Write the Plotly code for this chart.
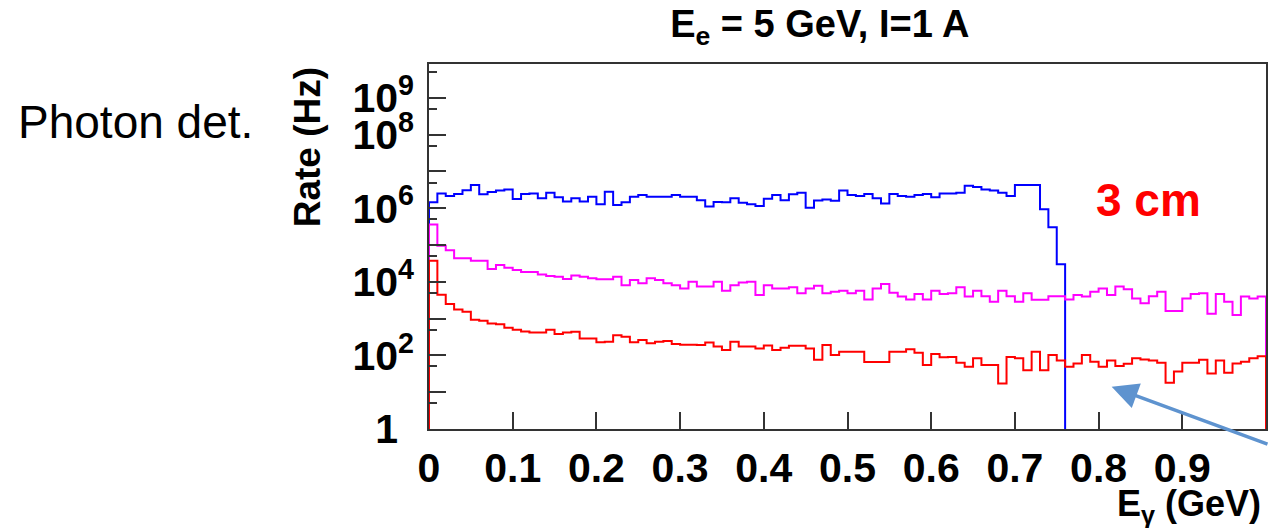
import numpy as np
import plotly.graph_objects as go

# ---- data (log10 of rate in Hz, one value per 0.01 GeV bin) ----
n_bins = 100
e_lo, e_hi = 0.0, 1.0

blue_log10 = [6.16, 6.40, 6.33, 6.39, 6.49, 6.63, 6.38, 6.44, 6.48, 6.51,
              6.25, 6.39, 6.40, 6.27, 6.42, 6.30, 6.18, 6.27, 6.18, 6.31,
              6.11, 6.45, 6.09, 6.16, 6.31, 6.36, 6.31, 6.31, 6.31, 6.36,
              6.31, 6.31, 6.22, 6.05, 6.17, 6.16, 6.27, 6.15, 6.11, 6.06,
              6.26, 6.36, 6.22, 6.38, 6.42, 6.01, 6.21, 6.24, 6.20, 6.48,
              6.36, 6.33, 6.39, 6.27, 6.13, 6.39, 6.33, 6.31, 6.36, 6.39,
              6.30, 6.40, 6.40, 6.42, 6.61, 6.58, 6.51, 6.48, 6.42, 6.33,
              6.63, 6.63, 6.63, 5.97, 5.48, 4.48]

magenta_log10 = [5.56, 4.98, 4.86, 4.64, 4.64, 4.57, 4.57, 4.35, 4.46, 4.38,
                 4.32, 4.27, 4.27, 4.20, 4.16, 4.14, 4.08, 4.17, 4.14, 4.10,
                 4.07, 4.07, 4.14, 3.91, 4.05, 3.96, 4.10, 4.05, 3.96, 3.91,
                 3.82, 4.00, 3.87, 3.87, 4.00, 3.76, 3.91, 3.98, 4.00, 3.64,
                 3.91, 3.82, 3.82, 3.85, 3.69, 3.82, 3.89, 3.69, 3.73, 3.76,
                 3.69, 3.76, 3.52, 3.82, 3.94, 3.70, 3.60, 3.52, 3.67, 3.52,
                 3.76, 3.67, 3.69, 3.85, 3.60, 3.76, 3.61, 3.46, 3.76, 3.61,
                 3.46, 3.69, 3.51, 3.51, 3.61, 3.61, 3.52, 3.64, 3.60, 3.73,
                 3.82, 3.64, 3.87, 3.80, 3.55, 3.42, 3.61, 3.73, 3.21, 3.21,
                 3.55, 3.67, 3.69, 3.13, 3.67, 3.46, 3.10, 3.60, 3.55, 3.60]

red_log10 = [4.57, 3.65, 3.40, 3.25, 3.19, 2.97, 2.94, 2.87, 2.85, 2.75,
             2.70, 2.65, 2.62, 2.62, 2.70, 2.58, 2.62, 2.64, 2.46, 2.46,
             2.36, 2.37, 2.55, 2.51, 2.36, 2.42, 2.33, 2.37, 2.39, 2.31,
             2.29, 2.29, 2.28, 2.35, 2.24, 2.15, 2.37, 2.24, 2.24, 2.19,
             2.27, 2.15, 2.21, 2.26, 2.26, 2.19, 1.88, 2.28, 2.01, 2.10,
             2.10, 2.10, 1.82, 1.82, 1.82, 2.10, 2.10, 2.17, 2.07, 1.74,
             2.04, 1.95, 1.96, 1.80, 1.69, 1.92, 1.74, 1.74, 1.24, 1.96,
             1.92, 1.60, 2.10, 1.60, 2.01, 1.86, 1.69, 1.78, 2.01, 1.83,
             1.69, 1.86, 1.71, 1.77, 1.92, 1.89, 1.86, 1.80, 1.26, 1.56,
             1.80, 1.80, 1.88, 1.51, 1.86, 1.53, 1.78, 1.83, 1.92, 1.98]

x_tick_vals = [0, 0.1, 0.2, 0.3, 0.4, 0.5, 0.6, 0.7, 0.8, 0.9, 1.0]
x_tick_text = ["0", "0.1", "0.2", "0.3", "0.4", "0.5", "0.6", "0.7", "0.8", "0.9", "1"]

y_major_vals = [1, 1e1, 1e2, 1e3, 1e4, 1e5, 1e6, 1e7, 1e8, 1e9]
pad = "<sup><span style='color:rgba(0,0,0,0)'>0</span></sup>"
y_major_text = ["1" + pad, "", "10<sup>2</sup>", "", "10<sup>4</sup>", "",
                "10<sup>6</sup>", "", "10<sup>8</sup>", "10<sup>9</sup>"]
y_minor_vals = [5, 5e1, 5e2, 5e3, 5e4, 5e5, 5e6, 5e7, 5e8, 5e9]

series = [("blue", blue_log10, "#0000ff"),
          ("magenta", magenta_log10, "#ff00ff"),
          ("red", red_log10, "#ff0000")]

edges = np.linspace(e_lo, e_hi, n_bins + 1)
floor_val = 1e-2  # below the axis minimum: drawn edges drop to the frame


def step_xy(logvals):
    vals = 10 ** np.asarray(logvals, dtype=float)
    n = len(vals)
    x = np.concatenate([[edges[0]], edges[:n], [edges[n]]])
    y = np.concatenate([[floor_val], vals, [floor_val]])
    return x, y


def bold(labels):
    return [("<b>" + t + "</b>") if t else "" for t in labels]


fig = go.Figure()
for name, lv, col in series:
    x, y = step_xy(lv)
    fig.add_trace(go.Scatter(x=x, y=y, mode="lines", name=name,
                             line=dict(color=col, width=2, shape="hv"),
                             hoverinfo="skip"))

FONT = "Liberation Sans, Arial, Helvetica, sans-serif"
axis_col = "#333333"
TICK_SIZE = 41

fig.update_layout(
    width=1269, height=528,
    margin=dict(l=429, r=1, t=64, b=99),
    paper_bgcolor="white", plot_bgcolor="white",
    showlegend=False,
    font=dict(family=FONT, color="black"),
    title=dict(text="<b>E<sub>e</sub> = 5 GeV, I=1 A</b>", x=0.646, xanchor="center",
               y=0.955, yanchor="middle", font=dict(size=38, family=FONT, color="black")),
)

fig.update_xaxes(
    range=[e_lo, e_hi], tickmode="array", tickvals=x_tick_vals, ticktext=bold(x_tick_text),
    ticks="inside", ticklen=17, tickwidth=1.5, tickcolor=axis_col,
    showline=True, linecolor=axis_col, linewidth=1.5, mirror=True,
    showgrid=False, zeroline=False,
    tickfont=dict(size=TICK_SIZE, family=FONT, color="black"),
    ticklabelstandoff=2,
)

fig.update_yaxes(
    type="log", range=[0, 9.92], tickmode="array", tickvals=y_major_vals, ticktext=bold(y_major_text),
    ticks="inside", ticklen=17, tickwidth=1.5, tickcolor=axis_col,
    minor=dict(tickmode="array", tickvals=y_minor_vals, ticks="inside", ticklen=8,
               tickwidth=1.5, tickcolor=axis_col, showgrid=False),
    showline=True, linecolor=axis_col, linewidth=1.5, mirror=True,
    showgrid=False, zeroline=False,
    tickfont=dict(size=TICK_SIZE, family=FONT, color="black"),
    ticklabelstandoff=5,
)

# text labels
fig.add_annotation(text="Photon det.", xref="paper", yref="paper", x=-0.4934, y=0.84,
                   xanchor="left", yanchor="middle", showarrow=False,
                   font=dict(size=46, family=FONT, color="black"))
fig.add_annotation(text="<b>3 cm</b>", xref="paper", yref="paper", x=0.860, y=0.628,
                   xanchor="center", yanchor="middle", showarrow=False,
                   font=dict(size=46, family=FONT, color="#ff0000"))
fig.add_annotation(text="<b>Rate (Hz)</b>", xref="paper", yref="paper", x=-0.1454, y=0.7726,
                   xanchor="center", yanchor="middle", textangle=-90, showarrow=False,
                   font=dict(size=37, family=FONT, color="black"))
fig.add_annotation(text="<b>E<sub>γ</sub> (GeV)</b>", xref="paper", yref="paper", x=0.9964, y=-0.212,
                   xanchor="right", yanchor="middle", showarrow=False,
                   font=dict(size=36, family=FONT, color="black"))
# arrow
fig.add_annotation(text="", xref="paper", yref="paper", x=0.8156, y=0.1159,
                   showarrow=True, ax=190, ay=58, arrowcolor="#5e93cf", arrowwidth=3.5,
                   arrowhead=2, arrowsize=1.5, standoff=0)

fig.write_html("out.html")
